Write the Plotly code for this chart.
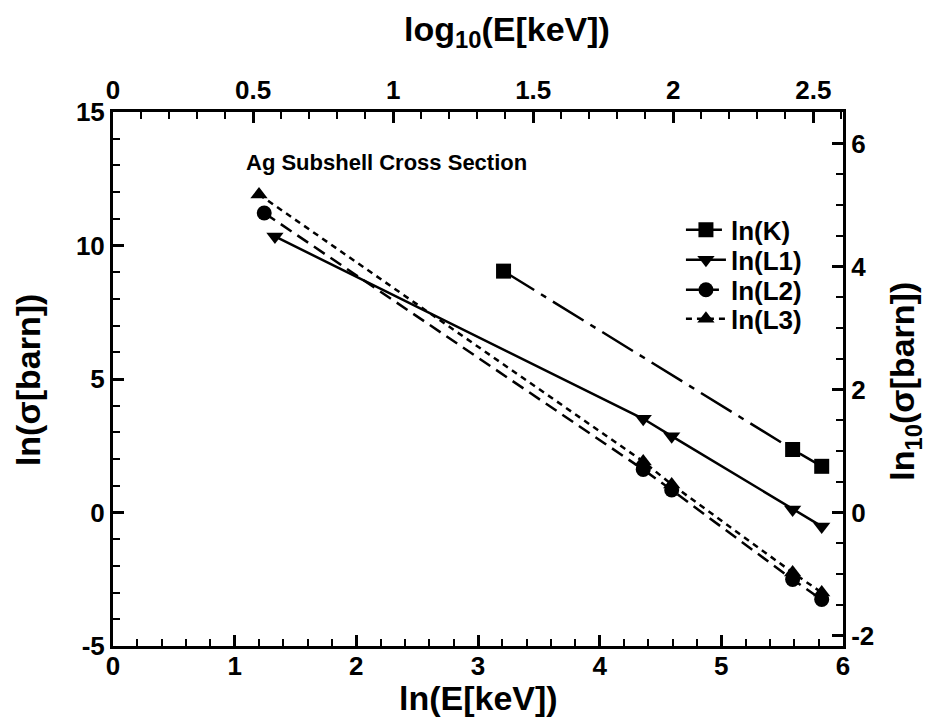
import math
import plotly.graph_objects as go

# ---- data ----
lnE_K = [3.21, 5.586, 5.825]
ln_K = [9.04, 2.36, 1.73]
lnE_L1 = [1.331, 4.358, 4.592, 5.586, 5.825]
ln_L1 = [10.34, 3.51, 2.86, 0.11, -0.52]
lnE_L2 = [1.243, 4.358, 4.592, 5.586, 5.825]
ln_L2 = [11.22, 1.61, 0.84, -2.51, -3.26]
lnE_L3 = [1.20, 4.358, 4.592, 5.586, 5.825]
ln_L3 = [11.91, 1.91, 1.05, -2.25, -3.00]

x_ticks = [0, 1, 2, 3, 4, 5, 6]
y_ticks = [-5, 0, 5, 10, 15]
y_ticklabels = ["-5", "0", "5", "10", "15"]
x2_ticks = [0, 0.5, 1, 1.5, 2, 2.5]
x2_ticklabels = ["0", "0.5", "1", "1.5", "2", "2.5"]
y2_ticks = [-2, 0, 2, 4, 6]
y2_ticklabels = ["-2", "0", "2", "4", "6"]

LN10 = math.log(10)
FONT = "Arial, Liberation Sans, sans-serif"

fig = go.Figure()

series = [
    ("ln(K)", lnE_K, ln_K, "square", 15, "36px,8px,6px,8px", "legend"),
    ("ln(L1)", lnE_L1, ln_L1, "triangle-down", 15, "solid", "legend2"),
    ("ln(L2)", lnE_L2, ln_L2, "circle", 15, "13px,7px", "legend3"),
    ("ln(L3)", lnE_L3, ln_L3, "triangle-up", 15, "6px,5px", "legend4"),
]
for name, xs, ys, sym, sz, dash, leg in series:
    fig.add_trace(go.Scatter(
        x=xs, y=ys, name=name, mode="lines+markers",
        line=dict(color="black", width=2.5, dash=dash),
        marker=dict(symbol=sym, size=sz, color="black"),
        legend=leg,
    ))

# helper trace so the secondary axes are drawn
fig.add_trace(go.Scatter(x=[None], y=[None], xaxis="x2", yaxis="y2",
                         showlegend=False, hoverinfo="skip"))

tickfont = dict(family=FONT, size=26, color="black", weight="bold")
common = dict(showline=True, linewidth=3, linecolor="black", ticks="inside",
              ticklen=11, tickwidth=2.5, tickcolor="black", showgrid=False,
              zeroline=False, tickfont=tickfont)
minor_common = dict(ticks="inside", ticklen=7, tickwidth=2, tickcolor="black")

leg_font = dict(family=FONT, size=26, color="black", weight="bold")
leg_x = 0.778
leg_ys = [0.7794, 0.7232, 0.6670, 0.6127]


def leg(y):
    return dict(x=leg_x, y=y, xanchor="left", yanchor="middle", font=leg_font,
                bgcolor="rgba(0,0,0,0)", itemwidth=40)


fig.update_layout(
    width=926, height=712,
    margin=dict(l=105, r=91, t=104, b=74),
    paper_bgcolor="white", plot_bgcolor="white",
    xaxis=dict(range=[0, 6], tickvals=x_ticks, ticktext=[str(v) for v in x_ticks],
               ticklabelstandoff=-5,
               minor=dict(dtick=0.2, **minor_common), **common),
    yaxis=dict(range=[-5, 15], tickvals=y_ticks, ticktext=y_ticklabels,
               minor=dict(dtick=1, **minor_common), **common),
    xaxis2=dict(range=[0, 6 / LN10], overlaying="x", side="top", anchor="y",
                tickvals=x2_ticks, ticktext=x2_ticklabels,
                minor=dict(dtick=0.1, **minor_common), **common),
    yaxis2=dict(range=[-5 / LN10, 15 / LN10], overlaying="y", side="right", anchor="x",
                tickvals=y2_ticks, ticktext=y2_ticklabels,
                minor=dict(dtick=0.5, **minor_common), **common),
    showlegend=True,
    legend=leg(leg_ys[0]),
    legend2=leg(leg_ys[1]),
    legend3=leg(leg_ys[2]),
    legend4=leg(leg_ys[3]),
)

ann_font = dict(family=FONT, size=34, color="black", weight="bold")
fig.add_annotation(text="ln(E[keV])", xref="paper", yref="paper", x=0.5, y=-0.0974,
                   xanchor="center", yanchor="middle", showarrow=False, font=ann_font)
fig.add_annotation(text="log<sub>10</sub>(E[keV])", xref="paper", yref="paper", x=0.540, y=1.150,
                   xanchor="center", yanchor="middle", showarrow=False, font=ann_font)
fig.add_annotation(text="ln(σ[barn])", xref="paper", yref="paper", x=-0.1164, y=0.498,
                   xanchor="center", yanchor="middle", showarrow=False, font=ann_font,
                   textangle=-90)
fig.add_annotation(text="ln<sub>10</sub>(σ[barn])", xref="paper", yref="paper", x=1.085, y=0.495,
                   xanchor="center", yanchor="middle", showarrow=False, font=ann_font,
                   textangle=-90)
fig.add_annotation(text="Ag Subshell Cross Section", xref="paper", yref="paper", x=0.374, y=0.9045,
                   xanchor="center", yanchor="middle", showarrow=False,
                   font=dict(family=FONT, size=22, color="black", weight="bold"))

fig.write_html("out.html")
